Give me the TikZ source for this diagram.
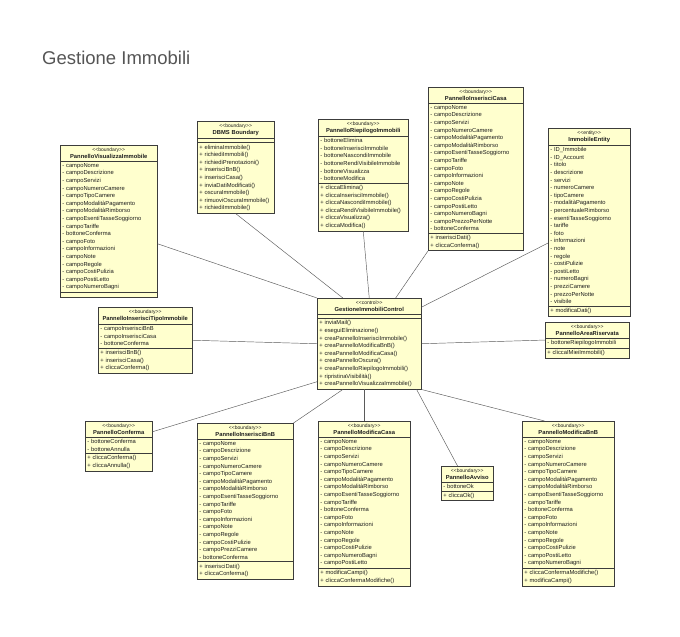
\documentclass[tikz,border=0pt]{standalone}
\usepackage{fontspec}
\setmainfont{Liberation Sans}
\usetikzlibrary{shapes.multipart}
\definecolor{classfill}{RGB}{255,255,206}
\definecolor{classline}{RGB}{60,60,60}
\definecolor{classtext}{RGB}{30,30,30}
\definecolor{linkgray}{RGB}{90,90,90}
\definecolor{titlegray}{RGB}{85,85,85}
\hyphenpenalty=10000
\exhyphenpenalty=10000
\newcommand{\umlhead}[2]{\makebox[\hsize]{\fontsize{5}{7.6}\selectfont <{}<#1>{}>}\\\makebox[\hsize]{\bfseries #2}}
\tikzset{
  umlclass/.style={rectangle split, rectangle split parts=3, draw=classline, fill=classfill,
    line width=0.5pt, anchor=north west, align=left, inner xsep=2pt, inner ysep=2pt,
    text=classtext, font=\fontsize{5.8}{7.6}\selectfont},
  link/.style={draw=linkgray, line width=0.45pt}
}

\begin{document}
\begin{tikzpicture}[x=1pt, y=-1pt]
    \useasboundingbox[fill=white] (0,0) rectangle (680,637);
    \node[anchor=base west, inner sep=0pt, text=titlegray, font=\fontsize{18.5}{20}\selectfont] (title) at (42,64) {Gestione Immobili};

    \node[umlclass, text width=93pt] (vis) at (60,145) {\umlhead{boundary}{PannelloVisualizzaImmobile}
        \nodepart{second}- campoNome\\- campoDescrizione\\- campoServizi\\- campoNumeroCamere\\- campoTipoCamere\\- campoModalitàPagamento\\- campoModalitàRimborso\\- campoEsentiTasseSoggiorno\\- campoTariffe\\- bottoneConferma\\- campoFoto\\- campoInformazioni\\- campoNote\\- campoRegole\\- campoCostiPulizia\\- campoPostiLetto\\- campoNumeroBagni
        \nodepart{third}};
    \node[umlclass, text width=73pt] (dbms) at (197,121) {\umlhead{boundary}{DBMS Boundary}
        \nodepart{second}
        \nodepart{third}+ eliminaImmobile()\\+ richiediImmobili()\\+ richiediPrenotazioni()\\+ inserisciBnB()\\+ inserisciCasa()\\+ inviaDatiModificati()\\+ oscuraImmobile()\\+ rimuoviOscuraImmobile()\\+ richiediImmobile()};
    \node[umlclass, text width=86pt] (riep) at (318,119) {\umlhead{boundary}{PannelloRiepilogoImmobili}
        \nodepart{second}- bottoneElimina\\- bottoneInserisciImmobile\\- bottoneNascondiImmobile\\- bottoneRendiVisibileImmobile\\- bottoneVisualizza\\- bottoneModifica
        \nodepart{third}+ cliccaElimina()\\+ cliccaInserisciImmobile()\\+ cliccaNascondiImmobile()\\+ cliccaRendiVisibileImmobile()\\+ cliccaVisualizza()\\+ cliccaModifica()};
    \node[umlclass, text width=91pt] (inscasa) at (428,87) {\umlhead{boundary}{PannelloInserisciCasa}
        \nodepart{second}- campoNome\\- campoDescrizione\\- campoServizi\\- campoNumeroCamere\\- campoModalitàPagamento\\- campoModalitàRimborso\\- campoEsentiTasseSoggiorno\\- campoTariffe\\- campoFoto\\- campoInformazioni\\- campoNote\\- campoRegole\\- campoCostiPulizia\\- campoPostiLetto\\- campoNumeroBagni\\- campoPrezzoPerNotte\\- bottoneConferma
        \nodepart{third}+ inserisciDati()\\+ cliccaConferma()};
    \node[umlclass, text width=78pt] (entity) at (548,128) {\umlhead{entity}{ImmobileEntity}
        \nodepart{second}- ID\_Immobile\\- ID\_Account\\- titolo\\- descrizione\\- servizi\\- numeroCamere\\- tipoCamere\\- modalitàPagamento\\- percentualeRimborso\\- esentiTasseSoggiorno\\- tariffe\\- foto\\- informazioni\\- note\\- regole\\- costiPulizie\\- postiLetto\\- numeroBagni\\- prezziCamere\\- prezzoPerNotte\\- visibile
        \nodepart{third}+ modificaDati()};

    \node[umlclass, text width=100pt] (ctrl) at (317,298) {\umlhead{control}{GestioneImmobiliControl}
        \nodepart{second}
        \nodepart{third}+ inviaMail()\\+ eseguiEliminazione()\\+ creaPannelloInserisciImmobile()\\+ creaPannelloModificaBnB()\\+ creaPannelloModificaCasa()\\+ creaPannelloOscura()\\+ creaPannelloRiepilogoImmobili()\\+ ripristinaVisibilità()\\+ creaPannelloVisualizzaImmobile()};
    \node[umlclass, text width=90pt] (tipo) at (98,307) {\umlhead{boundary}{PannelloInserisciTipoImmobile}
        \nodepart{second}- campoInserisciBnB\\- campoInserisciCasa\\- bottoneConferma
        \nodepart{third}+ inserisciBnB()\\+ inserisciCasa()\\+ cliccaConferma()};
    \node[umlclass, text width=80pt] (area) at (545,322) {\umlhead{boundary}{PannelloAreaRiservata}
        \nodepart{second}- bottoneRiepilogoImmobili
        \nodepart{third}+ cliccaIMieiImmobili()};

    \node[umlclass, text width=63pt] (conf) at (85,421) {\umlhead{boundary}{PannelloConferma}
        \nodepart{second}- bottoneConferma\\- bottoneAnnulla
        \nodepart{third}+ cliccaConferma()\\+ cliccaAnnulla()};
    \node[umlclass, text width=92pt] (insbnb) at (197,423) {\umlhead{boundary}{PannelloInserisciBnB}
        \nodepart{second}- campoNome\\- campoDescrizione\\- campoServizi\\- campoNumeroCamere\\- campoTipoCamere\\- campoModalitàPagamento\\- campoModalitàRimborso\\- campoEsentiTasseSoggiorno\\- campoTariffe\\- campoFoto\\- campoInformazioni\\- campoNote\\- campoRegole\\- campoCostiPulizie\\- campoPrezziCamere\\- bottoneConferma
        \nodepart{third}+ inserisciDati()\\+ cliccaConferma()};
    \node[umlclass, text width=88pt] (modcasa) at (318,421) {\umlhead{boundary}{PannelloModificaCasa}
        \nodepart{second}- campoNome\\- campoDescrizione\\- campoServizi\\- campoNumeroCamere\\- campoTipoCamere\\- campoModalitàPagamento\\- campoModalitàRimborso\\- campoEsentiTasseSoggiorno\\- campoTariffe\\- bottoneConferma\\- campoFoto\\- campoInformazioni\\- campoNote\\- campoRegole\\- campoCostiPulizie\\- campoNumeroBagni\\- campoPostiLetto
        \nodepart{third}+ modificaCampi()\\+ cliccaConfermaModifiche()};
    \node[umlclass, text width=48pt] (avviso) at (441,466) {\umlhead{boundary}{PannelloAvviso}
        \nodepart{second}- bottoneOk
        \nodepart{third}+ cliccaOk()};
    \node[umlclass, text width=88pt] (modbnb) at (522,421) {\umlhead{boundary}{PannelloModificaBnB}
        \nodepart{second}- campoNome\\- campoDescrizione\\- campoServizi\\- campoNumeroCamere\\- campoTipoCamere\\- campoModalitàPagamento\\- campoModalitàRimborso\\- campoEsentiTasseSoggiorno\\- campoTariffe\\- bottoneConferma\\- campoFoto\\- campoInformazioni\\- campoNote\\- campoRegole\\- campoCostiPulizie\\- campoPostiLetto\\- campoNumeroBagni
        \nodepart{third}+ cliccaConfermaModifiche()\\+ modificaCampi()};

    \draw[link] (vis.-25) -- (ctrl.north west);
    \draw[link] (dbms.south) -- (ctrl.120);
    \draw[link] (riep.south) -- (ctrl.north);
    \draw[link] (inscasa.south west) -- (ctrl.60);
    \draw[link] (entity.207) -- (ctrl.35);
    \draw[link] (tipo.east) -- (ctrl.west);
    \draw[link] (ctrl.east) -- (area.west);
    \draw[link] (conf.23) -- (ctrl.216);
    \draw[link] (insbnb.north east) -- (ctrl.240);
    \draw[link] (ctrl.south -| modcasa.north) -- (modcasa.north);
    \draw[link] (avviso.119) -- (ctrl.-44);
    \draw[link] (modbnb.106) -- (ctrl.south east);
\end{tikzpicture}
\end{document}
